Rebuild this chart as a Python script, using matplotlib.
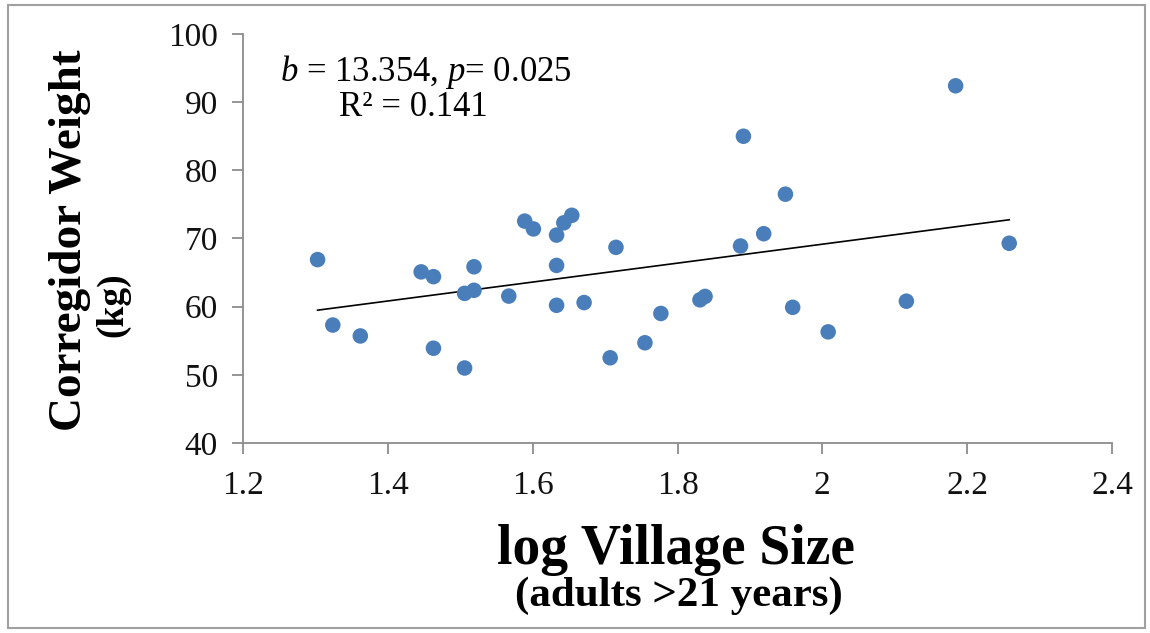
import numpy as np
import matplotlib
matplotlib.use("Agg")
import matplotlib.pyplot as plt
from matplotlib.patches import Rectangle

# log village size (adults > 21 years) and corregidor weight (kg)
log_village_size = [1.303, 1.324, 1.362, 1.446, 1.463, 1.463, 1.506, 1.506,
                    1.519, 1.519, 1.567, 1.589, 1.601, 1.633, 1.633, 1.633,
                    1.643, 1.654, 1.671, 1.707, 1.715, 1.755, 1.777, 1.831,
                    1.838, 1.887, 1.891, 1.919, 1.949, 1.959, 2.008, 2.116,
                    2.184, 2.258]
weight_kg = [66.9, 57.3, 55.7, 65.1, 64.4, 53.9, 51.0, 61.95,
             65.85, 62.4, 61.55, 72.55, 71.4, 70.5, 66.05, 60.2,
             72.3, 73.4, 60.6, 52.5, 68.7, 54.7, 59.0, 61.0,
             61.5, 68.9, 85.0, 70.7, 76.5, 59.9, 56.3, 60.8,
             92.4, 69.3]
x_ticks = [1.2, 1.4, 1.6, 1.8, 2.0, 2.2, 2.4]
x_tick_labels = ["1.2", "1.4", "1.6", "1.8", "2", "2.2", "2.4"]
y_ticks = [40, 50, 60, 70, 80, 90, 100]

plt.rcParams['font.family'] = ['Liberation Serif', 'DejaVu Serif']
plt.rcParams['mathtext.fontset'] = 'custom'
plt.rcParams['mathtext.rm'] = 'Liberation Serif'
plt.rcParams['mathtext.it'] = 'Liberation Serif:italic'

fig = plt.figure(figsize=(11.5, 6.33), dpi=100)
ax = fig.add_axes([0.2113, 0.3002, 0.7557, 0.6461])

x = np.array(log_village_size)
y = np.array(weight_kg)
ax.scatter(x, y, s=125, color='#4A7EBB', edgecolors='none', zorder=3)

# linear trend line
slope, intercept = np.polyfit(x, y, 1)
xl = np.array([x.min(), x.max()])
ax.plot(xl, slope * xl + intercept, color='black', linewidth=1.2, zorder=2)

ax.set_xlim(1.2, 2.4)
ax.set_ylim(40, 100)
ax.set_xticks(x_ticks)
ax.set_xticklabels(x_tick_labels)
ax.set_yticks(y_ticks)

for side in ['top', 'right']:
    ax.spines[side].set_visible(False)
for side in ['left', 'bottom']:
    ax.spines[side].set_color('#8c8c8c')
    ax.spines[side].set_linewidth(1.3)
ax.tick_params(axis='both', direction='out', length=8, width=1.3,
               color='#8c8c8c', labelsize=24, labelcolor='#111111')
ax.tick_params(axis='x', pad=12)
ax.tick_params(axis='y', pad=10)

ax.text(0.210, 0.908, r"$b$ = 13.354, $p$= 0.025", transform=ax.transAxes,
        fontsize=25, ha='center', va='center')
ax.text(0.196, 0.820, "R\u00b2 = 0.141", transform=ax.transAxes,
        fontsize=25, ha='center', va='center')

fig.text(0.588, 1 - 550 / 633, "log Village Size", fontsize=40,
         fontweight='bold', ha='center', va='center')
fig.text(0.590, 1 - 596 / 633, "(adults >21 years)", fontsize=31,
         fontweight='bold', ha='center', va='center')
fig.text(70 / 1150, 1 - 240 / 633, "Corregidor Weight", fontsize=34,
         fontweight='bold', rotation=90, ha='center', va='center')
fig.text(113 / 1150, 1 - 305 / 633, "(kg)", fontsize=27,
         fontweight='bold', rotation=90, ha='center', va='center')

# grey frame around the whole picture
fig.patches.append(Rectangle((8 / 1150, 5 / 633), 1137 / 1150, 623 / 633,
                             transform=fig.transFigure, fill=False,
                             edgecolor='#a0a0a0', linewidth=1.5))

fig.savefig("out.png", dpi=100)
